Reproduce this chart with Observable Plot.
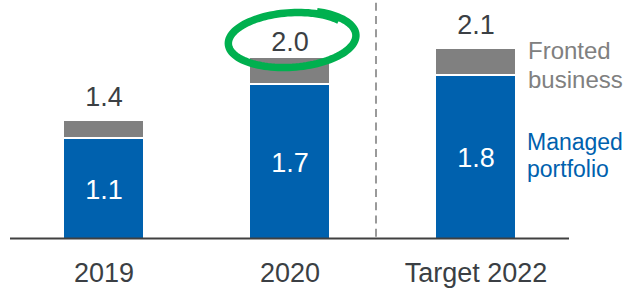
<!DOCTYPE html>
<html><head><meta charset="utf-8">
<script src="https://cdn.jsdelivr.net/npm/d3@7"></script>
<script src="https://cdn.jsdelivr.net/npm/@observablehq/plot@0.6"></script>
<style>body{margin:0;background:#fff}</style>
</head><body><div id="chart"></div>
<script>
const categories = ["2019", "2020", "Target 2022"];
const managed = [1.1, 1.7, 1.8];
const fronted = [0.2, 0.3, 0.3];
const totals = ["1.4", "2.0", "2.1"];
const highlighted = "2020";
const seriesLabels = ["Managed\nportfolio", "Fronted\nbusiness"];

const rows = categories.map((c, i) => ({
  cat: c, managed: managed[i], fronted: fronted[i],
  top: managed[i] + fronted[i], total: totals[i]
}));
const last = categories[categories.length - 1];

const BLUE = "#0061ae", GRAY = "#808080", TEXT = "#3b3f44", GREEN = "#00b04f";

// hand-drawn style ellipse (annotation shape), drawn around the highlighted total
const ellipseSymbol = {
  draw(ctx) {
    const rx = 61, ry = 26.5, rot = -4 * Math.PI / 180;
    const t0 = -65 * Math.PI / 180, span = 2 * Math.PI + 0.5, n = 120;
    for (let i = 0; i <= n; i++) {
      const f = i / n, t = t0 + span * f, k = 1.08 - 0.08 * f;
      const ex = rx * k * Math.cos(t), ey = ry * k * Math.sin(t);
      const x = ex * Math.cos(rot) - ey * Math.sin(rot);
      const y = ex * Math.sin(rot) + ey * Math.cos(rot);
      if (i === 0) ctx.moveTo(x, y); else ctx.lineTo(x, y);
    }
  }
};

const chart = Plot.plot({
  width: 627, height: 289,
  marginTop: 0, marginBottom: 51, marginLeft: 10, marginRight: 58,
  style: {fontFamily: "'Liberation Sans', Arial, sans-serif", background: "#fff", overflow: "visible"},
  x: {type: "band", domain: categories, paddingInner: 0.577, paddingOuter: 0.2885, align: 0.5, label: null},
  y: {domain: [0, 238 / 90], axis: null},
  marks: [
    Plot.ruleX([last], {x: d => d, dx: -100, stroke: "#9a9a9a", strokeWidth: 2, strokeDasharray: "8,5.3", strokeDashoffset: -2.7}),
    Plot.barY(rows, {x: "cat", y1: 0, y2: "managed", fill: BLUE}),
    Plot.barY(rows, {x: "cat", y1: "managed", y2: "top", fill: GRAY, insetBottom: 2}),
    Plot.ruleY([0], {stroke: "#404040", strokeWidth: 2}),
    Plot.axisX({tickSize: 0, tickPadding: 24, fontSize: 27, fill: TEXT}),
    Plot.text(rows, {x: "cat", y: d => d.managed / 2, text: d => d.managed.toFixed(1), fill: "white", fontSize: 27, dy: 1}),
    Plot.text(rows.filter(d => d.cat !== highlighted), {x: "cat", y: "top", text: "total", fill: TEXT, fontSize: 27, dy: -24}),
    Plot.text(rows.filter(d => d.cat === highlighted), {x: "cat", y: "top", text: "total", fill: TEXT, fontSize: 27, dy: -16}),
    Plot.dot(rows.filter(d => d.cat === highlighted), {x: "cat", y: "top", symbol: ellipseSymbol, stroke: GREEN, strokeWidth: 7.5, fill: "none", dy: -19, dx: 1}),
    Plot.text(rows.filter(d => d.cat === last), {x: "cat", y: "top", text: () => seriesLabels[1], fill: GRAY, fontSize: 24, lineHeight: 1.17, textAnchor: "start", dx: 52, dy: 15}),
    Plot.text(rows.filter(d => d.cat === last), {x: "cat", y: d => d.managed / 2, text: () => seriesLabels[0], fill: BLUE, fontSize: 23, lineHeight: 1.2, textAnchor: "start", dx: 51, dy: -3})
  ]
});
document.getElementById("chart").append(chart);
</script>
</body></html>
